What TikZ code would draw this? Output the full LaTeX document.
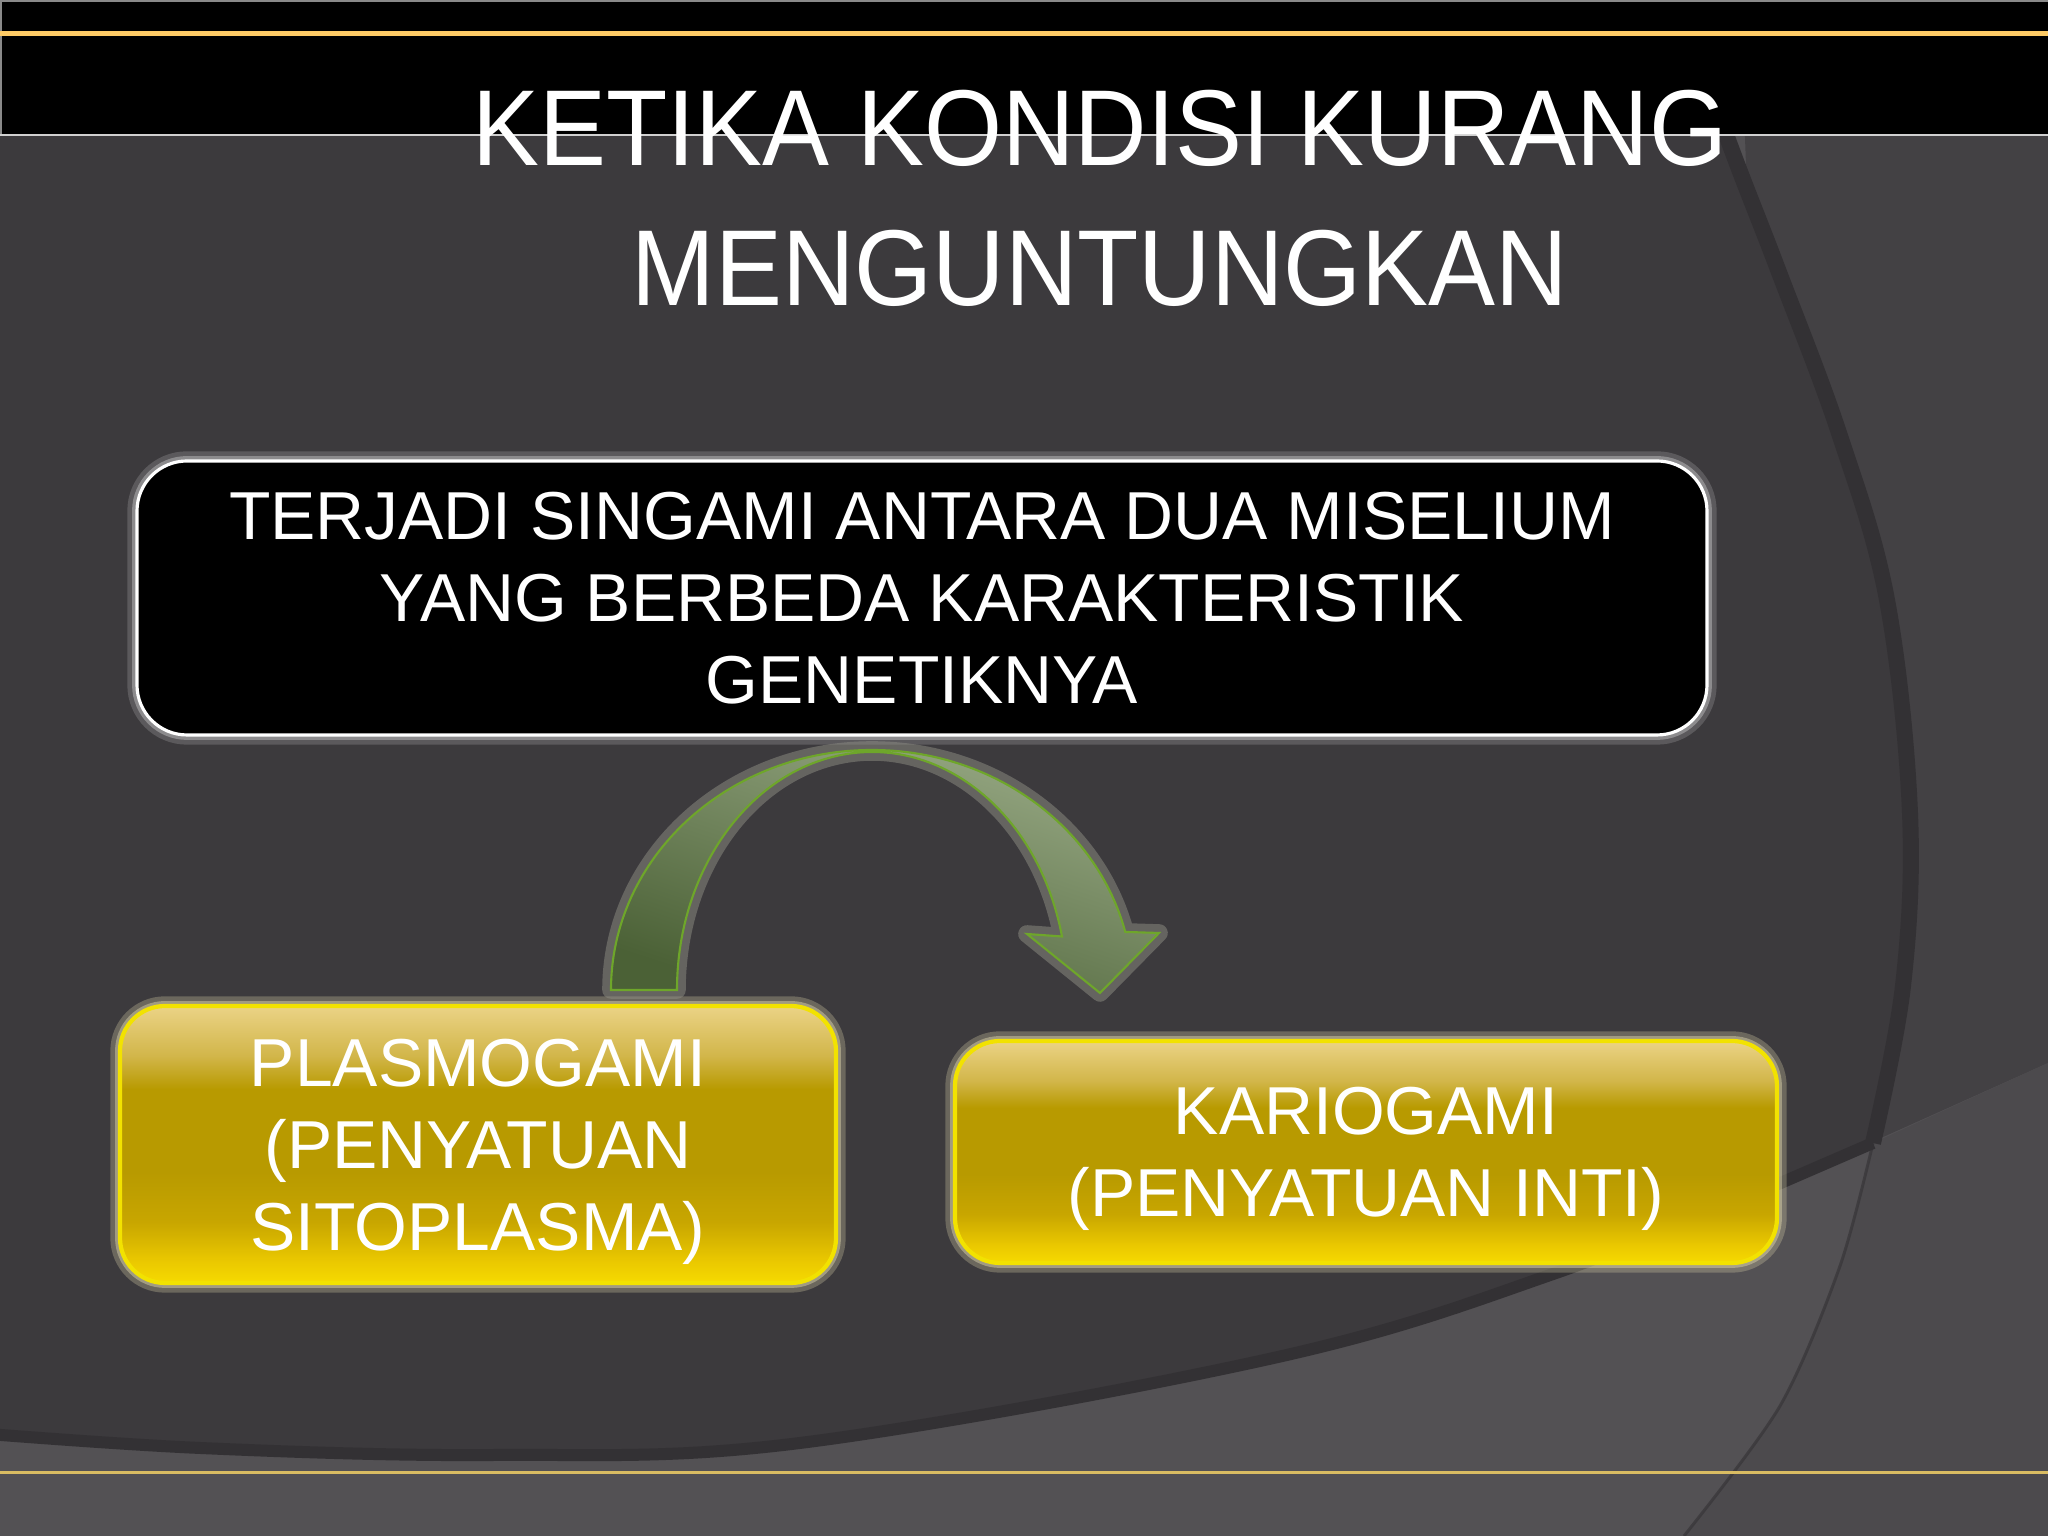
\documentclass[tikz,border=0pt]{standalone}
\usepackage{fontspec}
\setmainfont{Liberation Sans}
\newfontfamily\titlefont[FakeStretch=0.93]{Liberation Sans}
\usepackage{xcolor}
\usepackage{tikz}
\usetikzlibrary{positioning, calc}

\definecolor{bgdark}{HTML}{3C3A3D}
\definecolor{bgmid}{HTML}{434144}
\definecolor{bglight}{HTML}{535154}
\definecolor{bgfaint}{HTML}{4C4A4D}
\definecolor{rimcol}{HTML}{333134}
\definecolor{topgold}{HTML}{FFCC66}
\definecolor{linegold}{HTML}{D9BC62}
\definecolor{headline}{HTML}{D0D0D0}
\definecolor{headgray}{HTML}{8A8A8A}
\definecolor{goldbot}{HTML}{F6DA00}
\definecolor{goldlow}{HTML}{EAC800}
\definecolor{goldmidtwo}{HTML}{C8A600}
\definecolor{goldmid}{HTML}{B89A00}
\definecolor{goldhigh}{HTML}{D2B64A}
\definecolor{goldtop}{HTML}{EBD386}
\definecolor{goldedge}{HTML}{F2E200}
\definecolor{goldglow}{HTML}{D8D0A8}
\definecolor{arrowtop}{HTML}{9BAC88}
\definecolor{arrowbot}{HTML}{4B6136}
\definecolor{arrowedge}{HTML}{6EA62A}
\definecolor{arrowglow}{HTML}{8E8E84}

\pgfdeclareverticalshading{goldfill}{100bp}{color(0bp)=(goldbot); color(25bp)=(goldbot); color(29bp)=(goldlow); color(36bp)=(goldmidtwo); color(45bp)=(goldmid); color(60bp)=(goldmid); color(66bp)=(goldhigh); color(75bp)=(goldtop); color(100bp)=(goldtop)}

\tikzstyle{titletext} = [inner sep=0pt, align=center, text=white, font=\titlefont\fontsize{30.7}{39.8}\selectfont]
\tikzstyle{darkbox} = [rectangle, rounded corners=0.5cm, inner sep=0pt, align=center, text=white, font=\fontsize{19.3}{23.3}\selectfont, fill=black, draw=white, line width=0.9pt, preaction={draw=white, line width=5.5pt, opacity=0.16}, preaction={draw=white, line width=2.8pt, opacity=0.3}]
\tikzstyle{goldbox} = [rectangle, rounded corners=0.45cm, inner sep=0pt, align=center, text=white, text depth=0pt, font=\fontsize{19.3}{23.3}\selectfont, shade, shading=goldfill, draw=goldedge, line width=1.2pt, preaction={draw=goldglow, line width=5.5pt, opacity=0.3}, preaction={draw=goldglow, line width=2.8pt, opacity=0.5}]
\tikzstyle{bendarrow} = [draw=arrowedge, line width=0.6pt, top color=arrowtop, bottom color=arrowbot, shading angle=-18, preaction={draw=arrowglow, line width=5pt, opacity=0.5, line join=round}]

\begin{document}
\begin{tikzpicture}
    \useasboundingbox (0,0) rectangle (20.48,15.36);
    \clip (0,0) rectangle (20.48,15.36);
    % background
    \fill[bglight] (0,0) rectangle (20.48,15.36);
    \fill[bgmid] (17.4,15.36) -- (20.48,15.36) -- (20.48,4.73) -- (17.83,3.54) -- cycle;
    \fill[bgfaint] plot[smooth] coordinates {(18.73,3.93) (18.40,2.70) (17.80,1.30) (16.84,0)} -- (20.48,0) -- (20.48,4.73) -- cycle;
    \draw[rimcol, line width=0.03cm, opacity=0.6] plot[smooth] coordinates {(18.73,3.93) (18.40,2.70) (17.80,1.30) (16.84,0)};
    \fill[bgdark] plot[smooth, tension=0.6] coordinates {(16.55,16) (17.27,13.99) (17.77,12.69) (18.39,11.03) (18.87,9.36) (19.10,7.23) (19.03,5.50) (18.73,3.93)}
        -- plot[smooth, tension=0.6] coordinates {(17.83,3.54) (15.56,2.63) (12.78,1.79) (8.00,0.93) (4.96,0.81) (2.0,0.88) (-0.5,1.05)} -- (-0.5,16) -- cycle;
    \draw[rimcol, line width=0.16cm] plot[smooth, tension=0.6] coordinates {(16.55,16) (17.27,13.99) (17.77,12.69) (18.39,11.03) (18.87,9.36) (19.10,7.23) (19.03,5.50) (18.73,3.93)};
    \draw[rimcol, line width=0.12cm] (18.73,3.93) -- plot[smooth, tension=0.6] coordinates {(17.83,3.54) (15.56,2.63) (12.78,1.79) (8.00,0.93) (4.96,0.81) (2.0,0.88) (-0.5,1.05)};
    % header band
    \fill[black] (0,14.01) rectangle (20.48,15.36);
    \draw[headgray, line width=0.02cm] (0.01,14.01) -- (0.01,15.35) -- (20.48,15.35);
    \draw[topgold, line width=0.05cm] (0,15.025) -- (20.48,15.025);
    \draw[headline, line width=0.025cm] (0,14.01) -- (20.48,14.01);
    \draw[linegold, line width=0.03cm] (0,0.63) -- (20.48,0.63);
    %
    \node(title)[titletext] at (11.0,13.38) {KETIKA KONDISI KURANG\\MENGUNTUNGKAN};
    %
    \node(singami)[darkbox, minimum width=15.7cm, minimum height=2.74cm] at (9.22,9.38) {TERJADI SINGAMI ANTARA DUA MISELIUM\\YANG BERBEDA KARAKTERISTIK\\GENETIKNYA};
    \node(plasmo)[goldbox, minimum width=7.16cm, minimum height=2.77cm] at (4.78,3.915) {PLASMOGAMI\\(PENYATUAN\\SITOPLASMA)};
    \node(kario)[goldbox, minimum width=8.22cm, minimum height=2.22cm] at (13.66,3.84) {KARIOGAMI\\(PENYATUAN INTI)};
    %
    \coordinate(bend) at (8.72,5.46);
    \coordinate(tip) at (11.00,5.43);
    \draw[bendarrow] ($(bend)+(-2.61,0)$) arc[start angle=180, end angle=14, x radius=2.61, y radius=2.40]
        -- (11.59,6.03) -- (tip) -- (10.27,6.02) -- (10.62,5.995)
        arc[start angle=13, end angle=180, x radius=1.95, y radius=2.38] -- cycle;
\end{tikzpicture}
\end{document}
